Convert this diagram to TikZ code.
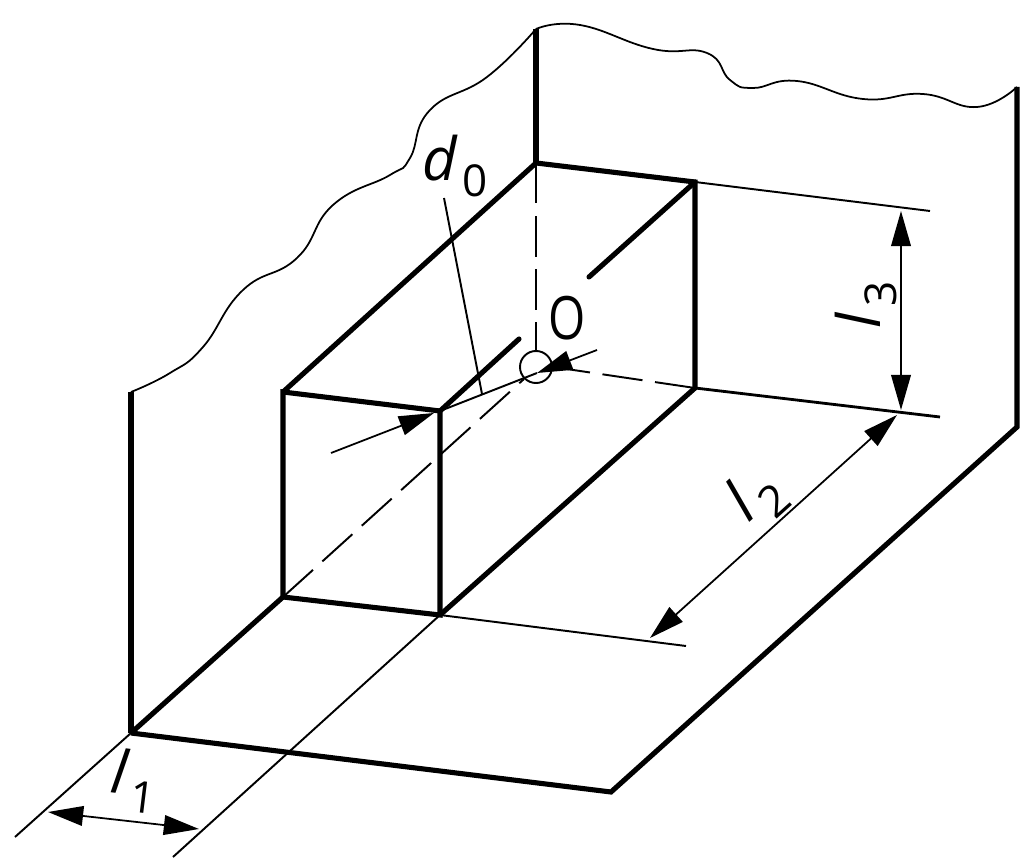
\documentclass[tikz,border=0pt]{standalone}
\usepackage{fontspec}
\setmainfont{Open Sans}
\usetikzlibrary{arrows.meta}
\tikzset{
  thickline/.style={line width=1.45pt,line join=miter},
  thinline/.style={line width=0.55pt},
  waveline/.style={line width=0.5pt,smooth,tension=0.8},
  hiddenline/.style={line width=0.55pt,dash pattern=on 11.5pt off 3.6pt},
  dimline/.style={line width=0.5pt,{Triangle[length=10pt,width=5.6pt]}-{Triangle[length=10pt,width=5.6pt]}},
  tipline/.style={line width=0.5pt,-{Triangle[length=10pt,width=5.6pt]}},
  dimtext/.style={inner sep=0pt,font=\fontsize{17}{17}\selectfont}
}
\newcommand{\dimlabel}[2]{\textit{#1}\hspace{1.5pt}\raisebox{-4.5pt}{\fontsize{12.5}{12.5}\selectfont #2}}

\begin{document}
\begin{tikzpicture}[x=0.01cm,y=-0.01cm]
    \useasboundingbox (0,0) rectangle (1024,864);

    % wall and floor corners
    \coordinate (wallleft) at (131,392);
    \coordinate (walltop) at (536,29);
    \coordinate (wallright) at (1017,87);
    \coordinate (floorright) at (1017,427);
    \coordinate (floorfront) at (611,792);
    \coordinate (floorleft) at (131,733);
    \coordinate (wallcorner) at (536,163);
    \coordinate (wallback) at (283,597);

    % block corners
    \coordinate (topleft) at (283,392);
    \coordinate (topfront) at (440,411);
    \coordinate (botfront) at (440,615);
    \coordinate (topright) at (695,182);
    \coordinate (botright) at (695,388);
    \coordinate (edgeend) at (519,339);
    \coordinate (edgestart) at (589,277);

    % broken edges of the walls
    \draw[waveline] plot coordinates {(wallleft) (170,373) (203,347) (243,290)
      (297,258) (333,205) (390,175) (410,158) (430,110)
      (487,77) (walltop)};
    \draw[waveline] plot coordinates {(walltop) (580,25) (653,49) (707,53)
      (730,80) (753,88) (797,81) (863,99) (923,94)
      (977,107) (wallright)};

    % outline
    \draw[thickline] (floorleft) -- (floorfront) -- (floorright) -- (wallright);
    \draw[line width=1.8pt] (wallleft) -- (floorleft);
    \draw[line width=1.8pt] (walltop) -- (wallcorner);
    \draw[thickline] (floorleft) -- (wallback);

    % block
    \draw[thickline] (wallback) -- (topleft) -- (topfront) -- (botfront) -- (wallback);
    \draw[thickline] (topleft) -- (wallcorner) -- (topright) -- (botright) -- (botfront);
    \draw[thickline,line cap=round] (topfront) -- (edgeend);
    \draw[thickline,line cap=round] (edgestart) -- (topright);

    % hole
    \node[circle,draw,line width=0.55pt,minimum size=0.32cm,inner sep=0pt] (hole) at (536,367) {};
    \draw[hiddenline] (wallcorner) -- (hole.north);
    \draw[hiddenline] (wallback) -- (hole.south west);
    \draw[hiddenline] (botright) -- (hole.east);

    % extension lines
    \coordinate (extone) at (15,837);
    \coordinate (exttwo) at (173,857);
    \coordinate (extthree) at (686,646);
    \coordinate (extfour) at (940,417);
    \coordinate (extfive) at (930,211);
    \draw[thinline] (floorleft) -- (extone);
    \draw[thinline] (botfront) -- (exttwo);
    \draw[thinline] (botfront) -- (extthree);
    \draw[line width=0.8pt] (botright) -- (extfour);
    \draw[thinline] (topright) -- (extfive);

    % dimensions
    \coordinate (lonea) at (48,812);
    \coordinate (loneb) at (199,829);
    \coordinate (ltwoa) at (650,638);
    \coordinate (ltwob) at (897,415);
    \coordinate (lthreea) at (901,211);
    \coordinate (lthreeb) at (901,410);
    \draw[dimline] (lonea) -- (loneb);
    \draw[dimline] (ltwoa) -- (ltwob);
    \draw[dimline] (lthreea) -- (lthreeb);

    % hole diameter
    \coordinate (dleft) at (331,453);
    \coordinate (dlefttip) at (434,413);
    \coordinate (dright) at (597,350);
    \coordinate (drighttip) at (537,373);
    \coordinate (dleader) at (444,198);
    \coordinate (dfoot) at (482,394);
    \draw[tipline] (dleft) -- (dlefttip);
    \draw[tipline] (dright) -- (drighttip);
    \draw[thinline] (topfront) -- (drighttip);
    \draw[thinline] (dleader) -- (dfoot);

    % labels
    \node[dimtext,rotate=-7] (lone) at (134,781) {\dimlabel{l}{1}};
    \node[dimtext,rotate=42] (ltwo) at (756,497) {\dimlabel{l}{2}};
    \node[dimtext,rotate=90] (lthree) at (866,305) {\dimlabel{l}{3}};
    \node[dimtext] (dzero) at (455,166) {\dimlabel{d}{0}};
    \node[dimtext,xscale=0.8] (origin) at (567,318) {O};
\end{tikzpicture}
\end{document}
